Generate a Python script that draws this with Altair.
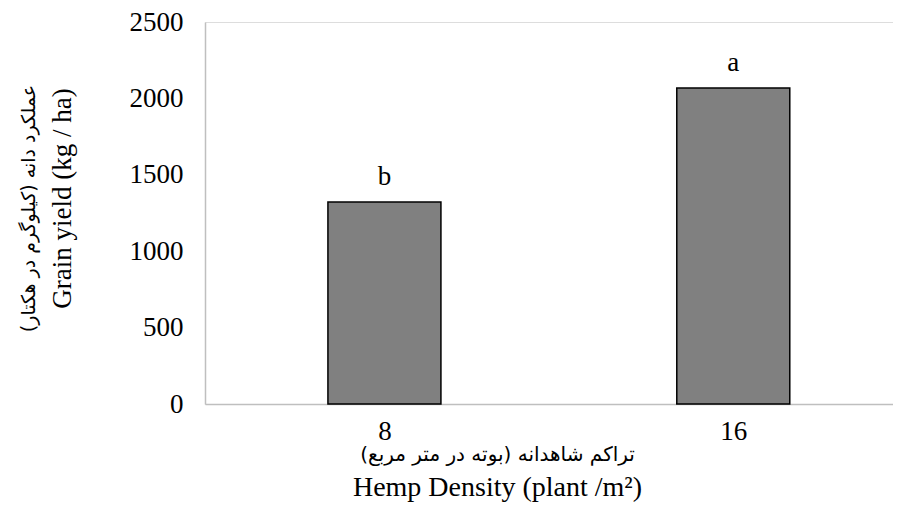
import altair as alt
import pandas as pd

densities = ["8", "16"]
yields = [1322, 2068]
letters = ["b", "a"]

df = pd.DataFrame({
    "density": densities,
    "yield": yields,
    "letter": letters,
    "pos": [i + 0.5 for i in range(len(densities))],
})

SERIF = "Times New Roman, Liberation Serif, DejaVu Serif, DejaVu Sans"
ARABIC = "DejaVu Sans, Noto Sans, sans-serif"
label_expr = "datum.value == 0.5 ? '8' : datum.value == 1.5 ? '16' : ''"

x_scale = alt.Scale(domain=[0, 1.9435], nice=False, zero=False)
y_scale = alt.Scale(domain=[0, 2500], nice=False)

x_main = alt.X(
    "pos:Q",
    scale=x_scale,
    axis=alt.Axis(
        orient="bottom",
        values=[0.5, 1.5],
        labelExpr=label_expr,
        ticks=False,
        grid=False,
        labelFontSize=27,
        labelFont=SERIF,
        labelColor="black",
        labelPadding=14,
        domainColor="#bfbfbf",
        domainWidth=1.5,
        title="Hemp Density (plant /m²)",
        titleFont=SERIF,
        titleFontSize=28,
        titleFontWeight="normal",
        titleColor="black",
        titleX=292,
        titleY=83,
        titleBaseline="middle",
        titleAnchor="start",
        titleAlign="center",
    ),
)

x_fa = alt.X(
    "pos:Q",
    scale=x_scale,
    axis=alt.Axis(
        orient="bottom",
        values=[0.5, 1.5],
        labels=False,
        ticks=False,
        grid=False,
        domain=False,
        title="تراکم شاهدانه (بوته در متر مربع)",
        titleFont=ARABIC,
        titleFontSize=20,
        titleFontWeight="normal",
        titleColor="black",
        titleX=292,
        titleY=50,
        titleBaseline="middle",
        titleAnchor="start",
        titleAlign="center",
    ),
)

y_main = alt.Y(
    "yield:Q",
    scale=y_scale,
    axis=alt.Axis(
        orient="left",
        values=[0, 500, 1000, 1500, 2000, 2500],
        format="d",
        ticks=False,
        grid=False,
        labelFontSize=27,
        labelFont=SERIF,
        labelColor="black",
        labelPadding=22,
        domainColor="#bfbfbf",
        domainWidth=1.5,
        title="Grain yield (kg / ha)",
        titleFont=SERIF,
        titleFontSize=27,
        titleFontWeight="normal",
        titleColor="black",
        titleX=-143,
        titleY=176,
        titleAngle=270,
        titleBaseline="middle",
        titleAlign="center",
    ),
)

y_fa = alt.Y(
    "yield:Q",
    scale=y_scale,
    axis=alt.Axis(
        orient="left",
        values=[0, 500, 1000, 1500, 2000, 2500],
        labels=False,
        ticks=False,
        grid=False,
        domain=False,
        title="عملکرد دانه (کیلوگرم در هکتار)",
        titleFont=ARABIC,
        titleFontSize=19,
        titleFontWeight="normal",
        titleColor="black",
        titleX=-177,
        titleY=186,
        titleAngle=270,
        titleBaseline="middle",
        titleAlign="center",
    ),
)

bars = alt.Chart(df).mark_bar(
    size=113, color="#808080", stroke="black", strokeWidth=1.5
).encode(x=x_main, y=y_main)

text = alt.Chart(df).mark_text(
    baseline="alphabetic", dy=-17, fontSize=27, font=SERIF, color="black"
).encode(x=x_fa, y=y_fa, text="letter:N")

chart = (bars + text).resolve_axis(x="independent", y="independent").properties(
    width=688,
    height=382,
    padding={"left": 197, "top": 14, "right": 0, "bottom": 99},
    autosize=alt.AutoSizeParams(type="none"),
).configure_view(stroke=None).configure(background="white")

chart.save("out.html", embed_options={"renderer": "svg", "actions": False})
